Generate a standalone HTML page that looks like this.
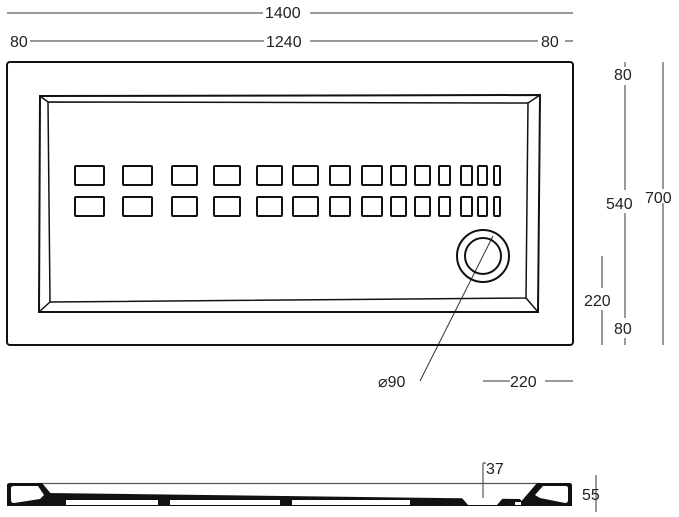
<!DOCTYPE html>
<html><head><meta charset="utf-8"><style>
html,body{margin:0;padding:0;background:#fff;}
svg{display:block;}
text{font-family:"Liberation Sans",sans-serif;font-size:16px;fill:#222;}
</style></head><body>
<svg width="679" height="517" viewBox="0 0 679 517" xmlns="http://www.w3.org/2000/svg">
<g stroke="#333" stroke-width="1" fill="none">
<line x1="7" y1="13" x2="263" y2="13"/><line x1="310" y1="13" x2="573" y2="13"/>
<line x1="30" y1="41" x2="264" y2="41"/><line x1="310" y1="41" x2="538" y2="41"/>
<line x1="565" y1="41" x2="573" y2="41"/>
<line x1="625" y1="62" x2="625" y2="67"/><line x1="625" y1="85" x2="625" y2="190"/>
<line x1="625" y1="213" x2="625" y2="318"/><line x1="625" y1="338" x2="625" y2="345"/>
<line x1="663" y1="62" x2="663" y2="345"/>
<line x1="602" y1="256" x2="602" y2="288"/><line x1="602" y1="310" x2="602" y2="345"/>
<line x1="483" y1="381" x2="510" y2="381"/><line x1="545" y1="381" x2="573" y2="381"/>
<line x1="420" y1="381" x2="493" y2="236"/>
<line x1="483" y1="463" x2="483" y2="500"/><line x1="483" y1="463" x2="486" y2="463"/>
<line x1="596" y1="475" x2="596" y2="512"/>
</g>
<g stroke="#111" stroke-width="2" fill="none">
<rect x="7" y="62" width="566" height="283" rx="3"/>
<path d="M40,96 L540,95 L538,312 L39,312 Z"/>
<path d="M48,102 L528,103 L526,298 L50,302 Z" stroke-width="1.5"/>
<path d="M40,96 L48,102 M540,95 L528,103 M538,312 L526,298 M39,312 L50,302" stroke-width="1.5"/>
<circle cx="483" cy="256" r="26"/><circle cx="483" cy="256" r="18"/>
</g>
<g stroke="#111" stroke-width="2" fill="none">
<rect x="75" y="166" width="29" height="19" rx="1"/><rect x="75" y="197" width="29" height="19" rx="1"/>
<rect x="123" y="166" width="29" height="19" rx="1"/><rect x="123" y="197" width="29" height="19" rx="1"/>
<rect x="172" y="166" width="25" height="19" rx="1"/><rect x="172" y="197" width="25" height="19" rx="1"/>
<rect x="214" y="166" width="26" height="19" rx="1"/><rect x="214" y="197" width="26" height="19" rx="1"/>
<rect x="257" y="166" width="25" height="19" rx="1"/><rect x="257" y="197" width="25" height="19" rx="1"/>
<rect x="293" y="166" width="25" height="19" rx="1"/><rect x="293" y="197" width="25" height="19" rx="1"/>
<rect x="330" y="166" width="20" height="19" rx="1"/><rect x="330" y="197" width="20" height="19" rx="1"/>
<rect x="362" y="166" width="20" height="19" rx="1"/><rect x="362" y="197" width="20" height="19" rx="1"/>
<rect x="391" y="166" width="15" height="19" rx="1"/><rect x="391" y="197" width="15" height="19" rx="1"/>
<rect x="415" y="166" width="15" height="19" rx="1"/><rect x="415" y="197" width="15" height="19" rx="1"/>
<rect x="439" y="166" width="11" height="19" rx="1"/><rect x="439" y="197" width="11" height="19" rx="1"/>
<rect x="461" y="166" width="11" height="19" rx="1"/><rect x="461" y="197" width="11" height="19" rx="1"/>
<rect x="478" y="166" width="9" height="19" rx="1"/><rect x="478" y="197" width="9" height="19" rx="1"/>
<rect x="494" y="166" width="6" height="19" rx="1"/><rect x="494" y="197" width="6" height="19" rx="1"/>
</g>
<line x1="40" y1="483.5" x2="540" y2="483.5" stroke="#555" stroke-width="1.2"/>
<path d="M7,485 Q7,483 10,483 L42,483 L52,495 L57,503 L57,506 L7,506 Z" fill="#111"/>
<path d="M11,488 Q11,486 14,486 L38,486 L44,495 L40,499 L14,503 Q11,503 11,500 Z" fill="#fff"/>
<path d="M572,485 Q572,483 569,483 L537,483 L525,497 L520,503 L520,506 L572,506 Z" fill="#111"/>
<path d="M568,488 Q568,486 565,486 L543,486 L535,495 L540,498 L565,503 Q568,503 568,500 Z" fill="#fff"/>
<path d="M45,493 L520,499 L525,506 L45,506 Z" fill="#111"/>
<rect x="66" y="500" width="92" height="5" fill="#fff"/>
<rect x="170" y="500" width="110" height="5" fill="#fff"/>
<rect x="292" y="500" width="118" height="5" fill="#fff"/>
<path d="M462,498 L503,498 L497,505 L468,505 Z" fill="#fff"/>
<rect x="515" y="502" width="6" height="3" fill="#fff"/>
<text x="265" y="18">1400</text>
<text x="10" y="47">80</text><text x="266" y="47">1240</text><text x="541" y="47">80</text>
<text x="614" y="80">80</text><text x="606" y="209">540</text>
<rect x="645" y="189" width="32" height="14" fill="#fff"/><text x="645" y="203">700</text>
<text x="584" y="306">220</text><text x="614" y="334">80</text>
<text x="378" y="387">⌀90</text><text x="510" y="387">220</text>
<text x="486" y="474">37</text><text x="582" y="500">55</text>
</svg>
</body></html>
